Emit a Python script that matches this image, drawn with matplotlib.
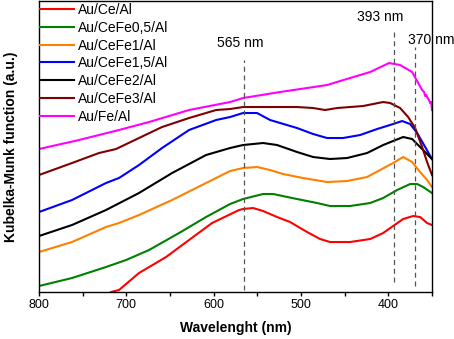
#!/usr/bin/env python3
"""Kubelka-Munk spectra of Au/CeFe/Al samples (values read off the figure)."""

import matplotlib

matplotlib.use("Agg")
import matplotlib.pyplot as plt

plt.rcParams["font.family"] = ["Liberation Sans", "DejaVu Sans"]

# wavelength (nm) / intensity (a.u.) per sample
CE_NM = [722, 717.5, 708.4, 685.5, 654.5, 628.2, 601.8, 570.9, 566.3, 554.9, 543.4, 527.4, 512.5,
         493.0, 478.1, 466.7, 443.8, 420.8, 405.9, 394.5, 383.0, 371.6, 363.6, 355.6, 350]
CE_KM = [-3, 0, 2, 19, 35, 52, 69, 82, 83, 84, 81, 75, 70,
         60, 53, 50, 50, 53, 59, 66, 73, 76, 75, 69, 67]

FE05_NM = [800, 762.2, 723.3, 700.3, 674.0, 639.6, 608.7, 581.2, 566.3, 543.4, 531.9, 504.5,
           481.6, 466.7, 443.8, 420.8, 405.9, 389.9, 375.0, 367.0, 360.1, 350]
FE05_KM = [6, 14, 25, 32, 42, 59, 75, 88, 93, 98, 98, 93,
           89, 86, 86, 89, 94, 102, 108, 108, 105, 99]

FE1_NM = [800, 762.2, 723.3, 708.4, 685.5, 647.6, 608.7, 581.2, 566.3, 550.3, 535.4, 520.5,
          497.6, 470.1, 447.2, 424.3, 409.4, 394.5, 383.0, 372.7, 363.6, 355.6, 350]
FE1_KM = [40, 50, 65, 69, 77, 92, 109, 121, 124, 125, 122, 118,
          114, 110, 111, 115, 122, 129, 135, 130, 120, 112, 105]

FE15_NM = [800, 762.2, 723.3, 708.4, 685.5, 659.1, 628.2, 597.2, 581.2, 566.3, 550.3, 535.4,
           504.5, 486.1, 470.1, 451.8, 432.3, 412.8, 394.5, 384.2, 375.0, 367.0, 357.8, 350]
FE15_KM = [80, 92, 109, 114, 127, 144, 162, 172, 175, 179, 179, 172,
           164, 158, 154, 154, 157, 163, 168, 171, 168, 159, 145, 133]

FE2_NM = [800, 762.2, 723.3, 685.5, 647.6, 608.7, 581.2, 566.3, 543.4, 527.4, 504.5, 486.1,
          466.7, 447.2, 424.3, 405.9, 394.5, 383.0, 372.7, 363.6, 350]
FE2_KM = [56, 67, 82, 99, 119, 137, 144, 147, 149, 147, 140, 135,
          133, 134, 139, 147, 151, 155, 153, 145, 133]

FE3_NM = [800, 762.2, 731.3, 711.8, 685.5, 659.1, 628.2, 597.2, 581.2, 566.3, 543.4, 504.5,
          486.1, 472.4, 458.6, 428.9, 405.9, 397.9, 386.5, 377.3, 369.3, 361.3, 355.6, 350]
FE3_KM = [117, 129, 139, 143, 154, 165, 174, 182, 183, 185, 185, 185,
          184, 182, 184, 186, 190, 189, 184, 175, 164, 145, 130, 117]

FE_NM = [800, 754.2, 708.4, 674.0, 628.2, 581.2, 566.3, 523.9, 470.1, 443.8, 420.8, 399.1,
         386.5, 372.7, 365.8, 361.3, 359.0, 357.8, 356.5, 355.6, 354.0, 352.1, 351.0, 350]
FE_KM = [143, 152, 162, 170, 182, 190, 194, 200, 207, 214, 220, 229,
         227, 220, 209, 202, 200, 196, 197, 195, 193, 189, 190, 182]

SERIES = [
    ("Au/Ce/Al", CE_NM, CE_KM, "#ff0000"),
    ("Au/CeFe0,5/Al", FE05_NM, FE05_KM, "#008000"),
    ("Au/CeFe1/Al", FE1_NM, FE1_KM, "#ff8000"),
    ("Au/CeFe1,5/Al", FE15_NM, FE15_KM, "#0000ff"),
    ("Au/CeFe2/Al", FE2_NM, FE2_KM, "#000000"),
    ("Au/CeFe3/Al", FE3_NM, FE3_KM, "#800000"),
    ("Au/Fe/Al", FE_NM, FE_KM, "#ff00ff"),
]

# marked band positions and the extent of their guide lines
PEAK_NM = [565, 393, 370]
PEAK_BOTTOM = [2, 10, 6]
PEAK_TOP = [232, 262, 245]
PEAK_LABELS = ["565 nm", "393 nm", "370 nm"]
LABEL_NM = [570, 409, 378]
LABEL_KM = [249, 275, 252]
LABEL_HA = ["center", "center", "left"]


def main() -> None:
    fig = plt.figure(figsize=(4.54, 3.39), dpi=100)
    ax = fig.add_axes([0.0859, 0.1386, 0.8656, 0.8584])

    for label, nm, km, color in SERIES:
        ax.plot(nm, km, color=color, linewidth=1.5, label=label)

    ax.vlines(PEAK_NM, PEAK_BOTTOM, PEAK_TOP, colors="#555555",
              linestyles=(0, (4, 3)), linewidth=0.9)
    for text, x, y, ha in zip(PEAK_LABELS, LABEL_NM, LABEL_KM, LABEL_HA):
        ax.text(x, y, text, ha=ha, va="center", fontsize=10, clip_on=False)

    ax.set_xlim(800, 350)
    ax.set_ylim(0, 291)
    ax.set_xticks([800, 700, 600, 500, 400])
    ax.set_xticks([750, 650, 550, 450, 350], minor=True)
    ax.tick_params(axis="x", which="both", direction="out", length=3, width=1,
                   labelsize=9, pad=2)
    ax.set_yticks([])
    for spine in ax.spines.values():
        spine.set_linewidth(1.0)

    ax.set_xlabel("Wavelenght (nm)", fontsize=10, fontweight="bold", labelpad=7)
    ax.set_ylabel("Kubelka-Munk function (a.u.)", fontsize=10, fontweight="bold", labelpad=15)

    ax.legend(loc="upper left", bbox_to_anchor=(-0.003, 1.0), frameon=False, fontsize=10,
              borderaxespad=0, borderpad=0.15, handlelength=2.45, handletextpad=0.3,
              labelspacing=0.27)

    fig.savefig("out.png", dpi=100)
    plt.close(fig)


if __name__ == "__main__":
    main()
